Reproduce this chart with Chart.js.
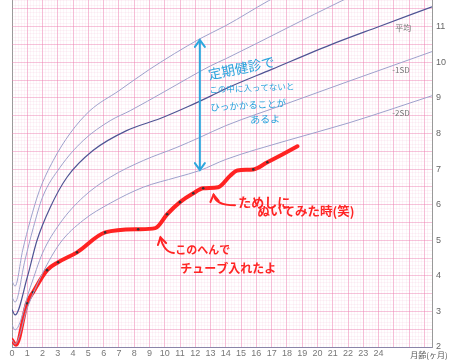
<!DOCTYPE html>
<html><head><meta charset="utf-8">
<script src="https://cdn.jsdelivr.net/npm/chart.js@4/dist/chart.umd.min.js"></script>
<style>html,body{margin:0;padding:0;background:#fff;}</style>
</head><body>
<canvas id="c" width="450" height="362"></canvas>
<script>
// ---- data (months, kg) ----
const plus2M  = [0, 0.2, 0.7, 1.2, 1.8, 2.7, 3.8, 5.1, 7, 9, 12.3, 14, 16.8, 18];
const plus2W  = [3.85, 3.71, 4.72, 5.56, 6.40, 7.24, 8.0, 8.64, 9.2, 9.8, 10.66, 11.03, 11.73, 12.0];
const plus1M  = [0, 0.2, 0.85, 1.4, 2.0, 3.15, 4.66, 6.43, 7.74, 10, 13, 14, 18, 21.6, 23];
const plus1W  = [3.4, 3.26, 4.44, 5.36, 6.21, 7.05, 7.80, 8.36, 8.64, 9.18, 9.9, 10.1, 10.96, 11.73, 12.0];
const meanM   = [0, 0.2, 1.0, 1.64, 2.5, 3.6, 5.3, 7.5, 9.7, 11.5, 13, 14, 17, 20.85, 24, 27.5];
const meanW   = [3.05, 2.90, 3.96, 5.0, 5.92, 6.77, 7.52, 8.08, 8.42, 8.75, 9.05, 9.26, 9.8, 10.49, 11.0, 11.56];
const minus1M = [0, 0.2, 1.2, 2.0, 3.15, 4.66, 6.43, 8.6, 10.8, 12.3, 14, 18, 22, 27.5];
const minus1W = [2.62, 2.48, 3.68, 4.64, 5.48, 6.21, 6.77, 7.24, 7.61, 7.89, 8.22, 8.84, 9.46, 10.30];
const minus2M = [0, 0.2, 1.0, 2.0, 3.15, 4.66, 6.43, 8.6, 10.8, 12.3, 14, 18, 22, 27.5];
const minus2W = [2.2, 2.08, 3.1, 4.07, 4.92, 5.56, 6.04, 6.49, 6.77, 6.96, 7.27, 7.80, 8.29, 9.06];
const weightM = [0, 0.26, 0.98, 1.38, 2.3, 3.02, 4.26, 6.1, 8.26, 9.38, 10.16, 11.0, 11.87, 12.52, 13.5, 14.3, 14.75, 15.8, 16.72, 17.7, 18.69];
const weightW = [2.20, 2.06, 3.23, 3.54, 4.16, 4.38, 4.66, 5.22, 5.31, 5.34, 5.73, 6.07, 6.32, 6.46, 6.49, 6.82, 6.96, 6.99, 7.19, 7.41, 7.64];
const weightDot = [0, 0, 1, 1, 1, 1, 1, 1, 1, 0, 1, 1, 1, 1, 0, 0, 0, 1, 1, 0, 0];
const xTickLabels = [0,1,2,3,4,5,6,7,8,9,10,11,12,13,14,15,16,17,18,19,20,21,22,23,24];
const yTickLabels = [2,3,4,5,6,7,8,9,10,11];
const sdLabels = ['平均', '-1SD', '-2SD'];
const sdLabelPos = [[25.1, 10.97], [24.9, 9.79], [24.9, 8.59]];
const blueNote = ['定期健診で', 'この中に入ってないと', 'ひっかかることが', 'あるよ'];
const blueNotePos = [[12.85, 9.65, -0.2, 13.5], [12.92, 9.23, -0.04, 8.5], [12.98, 8.73, -0.06, 9.5], [15.6, 8.39, -0.03, 10]];
const blueArrow = [12.3, 6.97, 10.63];
const redNote = ['ためしに', 'ぬいてみた時(笑)', 'このへんで', 'チューブ入れたよ'];
const redNotePos = [[14.82, 6.07, 13], [16.07, 5.81, 12.5], [10.69, 4.72, 11], [11.02, 4.21, 12]];
// arrow: tail, control, tip (month, kg)
const redArrows = [
  [[10.6, 4.64], [9.95, 4.66], [9.72, 5.08]],
  [[14.6, 5.98], [13.3, 5.98], [13.2, 6.28]]
];

const pts = (m, w) => m.map((v, i) => ({x: v, y: w[i]}));
const thin = '#9ea1cc';
const sd = (m, w, color, width) => ({data: pts(m, w), borderColor: color, borderWidth: width, pointRadius: 0, fill: false, cubicInterpolationMode: 'monotone'});

const isInt = v => Math.abs(v - Math.round(v)) < 1e-6;
const isHalf = v => Math.abs(v * 2 - Math.round(v * 2)) < 1e-6;

const annot = {
  id: 'annot',
  afterDatasetsDraw(chart) {
    const {ctx, scales: {x, y}} = chart;
    const px = m => x.getPixelForValue(m), py = v => y.getPixelForValue(v);
    ctx.save();
    ctx.fillStyle = '#777';
    ctx.font = '8px "Noto Sans CJK JP", sans-serif';
    ctx.textBaseline = 'middle';
    sdLabels.forEach((t, i) => ctx.fillText(t, px(sdLabelPos[i][0]), py(sdLabelPos[i][1])));
    ctx.strokeStyle = '#2ea6dd';
    ctx.lineWidth = 2;
    ctx.lineCap = 'round';
    const ax = px(blueArrow[0]), ay1 = py(blueArrow[1]), ay2 = py(blueArrow[2]);
    ctx.beginPath();
    ctx.moveTo(ax, ay1); ctx.lineTo(ax, ay2);
    ctx.moveTo(ax - 5, ay2 + 7); ctx.lineTo(ax, ay2); ctx.lineTo(ax + 5, ay2 + 7);
    ctx.moveTo(ax - 5, ay1 - 7); ctx.lineTo(ax, ay1); ctx.lineTo(ax + 5, ay1 - 7);
    ctx.stroke();
    ctx.fillStyle = '#2aa3dc';
    blueNote.forEach((t, i) => {
      const [m, v, r, s] = blueNotePos[i];
      ctx.save();
      ctx.translate(px(m), py(v));
      ctx.rotate(r);
      ctx.font = s + 'px "Noto Sans CJK JP", sans-serif';
      ctx.textBaseline = 'middle';
      ctx.fillText(t, 0, 0);
      ctx.restore();
    });
    ctx.fillStyle = '#ff2424';
    redNote.forEach((t, i) => {
      const [m, v, s] = redNotePos[i];
      ctx.font = 'bold ' + s + 'px "Noto Sans CJK JP", sans-serif';
      ctx.textBaseline = 'middle';
      ctx.fillText(t, px(m), py(v));
    });
    ctx.strokeStyle = '#ff2424';
    ctx.lineWidth = 2;
    redArrows.forEach(a => {
      const [t, c, p] = a;
      const tx = px(t[0]), ty = py(t[1]), cx = px(c[0]), cy = py(c[1]), qx = px(p[0]), qy = py(p[1]);
      ctx.beginPath();
      ctx.moveTo(tx, ty);
      ctx.quadraticCurveTo(cx, cy, qx, qy);
      ctx.stroke();
      const ang = Math.atan2(qy - cy, qx - cx);
      ctx.beginPath();
      ctx.moveTo(qx - 8 * Math.cos(ang - 0.55), qy - 8 * Math.sin(ang - 0.55));
      ctx.lineTo(qx, qy);
      ctx.lineTo(qx - 8 * Math.cos(ang + 0.55), qy - 8 * Math.sin(ang + 0.55));
      ctx.stroke();
    });
    ctx.fillStyle = '#555';
    ctx.font = '8px "Noto Sans CJK JP", sans-serif';
    ctx.textAlign = 'center';
    ctx.fillText('月齢(ヶ月)', 429, 355);
    ctx.restore();
  }
};

new Chart(document.getElementById('c'), {
  type: 'line',
  data: {
    datasets: [
      sd(plus2M, plus2W, thin, 1),
      sd(plus1M, plus1W, thin, 1),
      sd(meanM, meanW, '#4f5494', 1.2),
      sd(minus1M, minus1W, thin, 1),
      sd(minus2M, minus2W, thin, 1),
      {data: pts(weightM, weightW), borderColor: '#ff2222', borderWidth: 4, fill: false,
       cubicInterpolationMode: 'monotone', borderCapStyle: 'round', borderJoinStyle: 'round',
       pointRadius: c => weightDot[c.dataIndex] ? 1.3 : 0, pointBackgroundColor: '#333', pointBorderWidth: 0}
    ]
  },
  options: {
    responsive: false, animation: false, devicePixelRatio: 1,
    layout: {padding: {left: 12, right: 0, top: 0, bottom: 0}},
    plugins: {legend: {display: false}, tooltip: {enabled: false}},
    scales: {
      x: {
        type: 'linear', min: 0, max: 27.5,
        afterFit: s => { s.height = 15; s.paddingLeft = 0; s.paddingRight = 0; },
        border: {display: true, color: '#8a84a8', width: 1},
        grid: {drawTicks: false,
          color: c => c.tick.value === 0 ? '#999' : (isInt(c.tick.value) ? 'rgba(238,125,175,0.5)' : 'rgba(240,165,200,0.12)'),
          lineWidth: 1},
        ticks: {stepSize: 0.2, autoSkip: false, maxRotation: 0, padding: 1, color: '#777',
          font: {family: '"Liberation Sans", sans-serif', size: 9},
          callback: v => (isInt(v) && xTickLabels.includes(Math.round(v))) ? String(Math.round(v)) : ''}
      },
      y: {
        type: 'linear', position: 'right', min: 2, max: 11.75,
        afterFit: s => { s.width = 18; s.paddingTop = 0; s.paddingBottom = 0; },
        border: {display: true, color: '#999', width: 1},
        grid: {drawTicks: false,
          color: c => isHalf(c.tick.value) ? 'rgba(238,125,175,0.45)' : 'rgba(240,165,200,0.12)',
          lineWidth: 1},
        ticks: {stepSize: 0.1, autoSkip: false, padding: 4, color: '#666',
          font: {family: '"Liberation Sans", sans-serif', size: 9},
          callback: v => (isInt(v) && yTickLabels.includes(Math.round(v))) ? String(Math.round(v)) : ''}
      }
    }
  },
  plugins: [annot]
});
</script>
</body></html>
